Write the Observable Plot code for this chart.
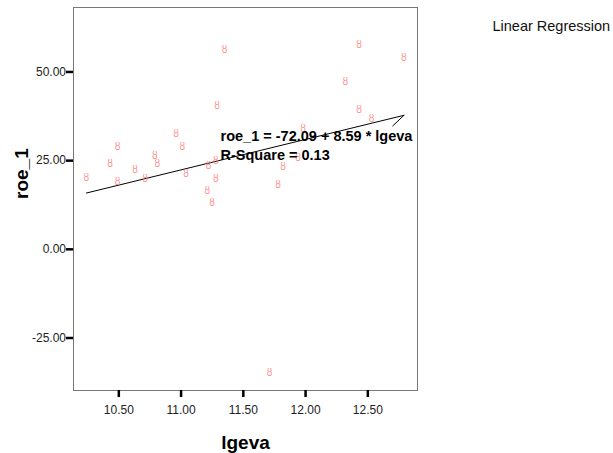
<!DOCTYPE html>
<html>
<head>
<meta charset="utf-8">
<script src="https://cdn.jsdelivr.net/npm/d3@7"></script>
<script src="https://cdn.jsdelivr.net/npm/@observablehq/plot@0.6"></script>
<style>
  html, body { margin: 0; padding: 0; background: white; }
  #chart svg { display: block; }
</style>
</head>
<body>
<div id="chart"></div>
<script>
const lgeva = [10.24, 10.43, 10.49, 10.49, 10.63, 10.71, 10.79, 10.81, 10.96, 11.01, 11.04, 11.22, 11.28, 11.28, 11.21, 11.25, 11.29, 11.35, 11.71, 11.78, 11.82, 11.94, 11.98, 12.32, 12.43, 12.43, 12.53, 12.79];
const roe_1 = [20.1, 24.1, 28.8, 19.1, 22.4, 19.9, 26.4, 24.1, 32.6, 28.9, 21.3, 23.6, 24.9, 19.9, 16.6, 13.2, 40.5, 56.3, -34.8, 18.3, 23.3, 25.9, 34.0, 47.2, 57.7, 39.3, 36.9, 53.9];
const xTicks = [10.5, 11.0, 11.5, 12.0, 12.5];
const yTicks = [-25, 0, 25, 50];
const intercept = -72.09;
const slope = 8.59;
const rSquare = 0.13;
const equationText = `roe_1 = ${intercept.toFixed(2)} + ${slope.toFixed(2)} * lgeva\nR-Square = ${rSquare.toFixed(2)}`;
const legendText = "Linear Regression";

const points = lgeva.map((x, i) => ({x, y: roe_1[i]}));
const [xmin, xmax] = d3.extent(lgeva);
const fit = x => intercept + slope * x;
const regLine = [{x: xmin, y: fit(xmin)}, {x: xmax, y: fit(xmax)}];
const hook = [{x: xmax, y: fit(xmax)}, {x: xmax - 0.09, y: fit(xmax) - 3.0}];

const chart = Plot.plot({
  width: 613,
  height: 453,
  marginLeft: 73,
  marginRight: 196,
  marginTop: 7,
  marginBottom: 63,
  style: {fontFamily: "'Liberation Sans', Arial, sans-serif", background: "white"},
  x: {domain: [10.136, 12.899]},
  y: {domain: [-39.8, 68.17]},
  marks: [
    Plot.frame({stroke: "#777", strokeWidth: 1}),
    Plot.axisX({ticks: xTicks, tickFormat: d => d.toFixed(2), tickSize: 7, tickPadding: 8, stroke: "black", strokeWidth: 2.5, fill: "#222", fontSize: 12, label: null}),
    Plot.axisY({ticks: yTicks, tickFormat: d => d.toFixed(2), tickSize: 7, tickPadding: 0.5, stroke: "black", strokeWidth: 2.5, fill: "#222", fontSize: 12, label: null}),
    Plot.line(regLine, {x: "x", y: "y", stroke: "black", strokeWidth: 1}),
    Plot.line(hook, {x: "x", y: "y", stroke: "black", strokeWidth: 1}),
    Plot.text(points, {x: "x", y: "y", text: () => "ȣ", fill: "#f77", fontSize: 10, fillOpacity: 0.8}),
    Plot.text([equationText], {x: 11.317, y: 29.65, text: d => d, textAnchor: "start", lineAnchor: "middle", lineHeight: 1.35, fontWeight: "bold", fontSize: 14.5, fill: "black"}),
    Plot.text(["lgeva"], {frameAnchor: "bottom", dy: 52, text: d => d, fontWeight: "bold", fontSize: 19, lineAnchor: "middle", fill: "black"}),
    Plot.text(["roe_1"], {frameAnchor: "left", dx: -52, rotate: -90, text: d => d, fontWeight: "bold", fontSize: 19, lineAnchor: "middle", fill: "black"}),
    Plot.text([legendText], {frameAnchor: "top-right", dx: 75, dy: 19, text: d => d, textAnchor: "start", lineAnchor: "middle", fontSize: 14.5, fill: "#111"})
  ]
});
document.getElementById("chart").appendChild(chart);
</script>
</body>
</html>
